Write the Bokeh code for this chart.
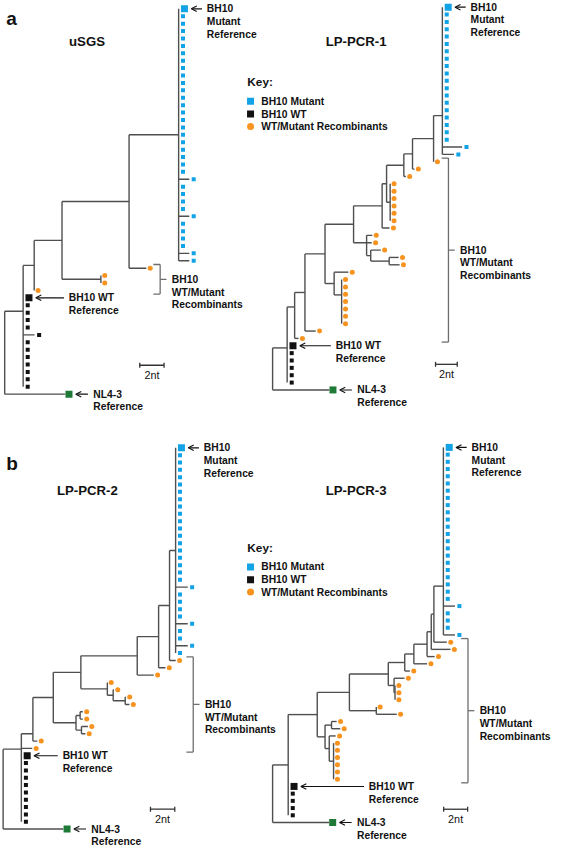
from bokeh.plotting import figure
from bokeh.models import Range1d, Arrow, OpenHead
from bokeh.embed import file_html
from bokeh.resources import INLINE
from bokeh.core.properties import value

# ============================ DATA ============================
panel_titles = ["uSGS", "LP-PCR-1", "LP-PCR-2", "LP-PCR-3"]
panel_letters = ["a", "b"]
key_title = "Key:"
key_kinds = ["mutref", "wtref", "rec"]
key_labels = ["BH10 Mutant", "BH10 WT", "WT/Mutant Recombinants"]
mut_label = ["BH10", "Mutant", "Reference"]
wt_label = ["BH10 WT", "Reference"]
nl43_label = ["NL4-3", "Reference"]
rec_label = ["BH10", "WT/Mutant", "Recombinants"]
scale_nt = 2
scale_label = "2nt"

# Internal nodes: (name, parent, distance from root in nt, row override or None)
# Leaves top to bottom: (parent, tip distance in nt or None = on the node, kind, count)
usgs_nodes = [
    ("R", None, 0.00, None),
    ("A", "R", 1.52, 40.82),
    ("B", "A", 2.43, None),
    ("C", "B", 4.72, None),
    ("D", "C", 10.24, None),
    ("E", "C", 7.92, None),
    ("M", "D", 14.32, None),
]
usgs_leaves = [
    ("M", None, "mutref", 1),
    ("M", None, "mut", 22),
    ("M", 15.2, "mut", 1),
    ("M", None, "mut", 4),
    ("M", 15.2, "mut", 1),
    ("M", None, "mut", 4),
    ("M", 15.2, "mut", 2),
    ("D", 11.66, "rec", 1),
    ("E", None, "rec", 2),
    ("B", None, "rec", 1),
    ("A", None, "wtref", 1),
    ("A", None, "wt", 4),
    ("A", 2.46, "wt", 1),
    ("A", None, "wt", 7),
    ("R", 4.99, "nl43", 1),
]

lp1_nodes = [
    ("R", None, 0.00, None),
    ("N1", "R", 1.34, 46.29),
    ("N2", "N1", 2.03, 40.73),
    ("N3", "N2", 2.98, None),
    ("N4", "N3", 4.83, None),
    ("N5", "N4", 7.46, None),
    ("P", "N5", 10.09, None),
    ("Q", "P", 10.50, None),
    ("K2", "Q", 12.09, None),
    ("K3", "K2", 12.89, None),
    ("K4", "K3", 14.83, None),
    ("M", "K4", 15.64, 14.73),
    ("U", "Q", 10.83, None),
    ("V", "N5", 8.66, 32.0),
    ("Vb", "V", 9.04, None),
    ("Vc", "Vb", 10.74, None),
    ("W", "N4", 5.67, None),
    ("W2", "W", 6.36, 39.09),
]
lp1_leaves = [
    ("M", None, "mutref", 1),
    ("M", None, "mut", 18),
    ("M", 17.46, "mut", 1),
    ("M", 16.71, "mut", 1),
    ("K4", None, "rec", 1),
    ("K3", 13.07, "rec", 1),
    ("K2", 12.27, "rec", 1),
    ("U", None, "rec", 6),
    ("P", 10.77, "rec", 1),
    ("V", 9.19, "rec", 1),
    ("V", 9.13, "rec", 1),
    ("Vb", 9.96, "rec", 1),
    ("Vc", 11.61, "rec", 1),
    ("Vc", 11.70, "rec", 1),
    ("W", 6.98, "rec", 1),
    ("W2", None, "rec", 7),
    ("N3", 3.97, "rec", 1),
    ("N2", 2.39, "rec", 1),
    ("N1", None, "wtref", 1),
    ("N1", None, "wt", 5),
    ("R", 5.22, "nl43", 1),
]

lp2_nodes = [
    ("R", None, 0.00, None),
    ("N1", "R", 1.50, 41.1),
    ("N2", "N1", 2.45, 39.0),
    ("N3", "N2", 4.13, None),
    ("N4", "N3", 6.40, None),
    ("N5", "N4", 11.04, None),
    ("N7", "N5", 12.80, None),
    ("N8", "N7", 13.70, None),
    ("M", "N8", 14.20, None),
    ("N6", "N4", 8.58, None),
    ("N6b", "N6", 9.06, None),
    ("N6c", "N6b", 10.05, None),
    ("N3b", "N3", 6.00, None),
    ("N3c", "N3b", 6.34, None),
    ("N3d", "N3b", 6.45, None),
]
lp2_leaves = [
    ("M", None, "mutref", 1),
    ("M", None, "mut", 18),
    ("M", 15.2, "mut", 1),
    ("M", None, "mut", 4),
    ("M", 15.2, "mut", 1),
    ("M", None, "mut", 2),
    ("M", 15.2, "mut", 1),
    ("M", None, "mut", 1),
    ("N8", 14.21, "rec", 1),
    ("N7", 13.36, "rec", 1),
    ("N5", 12.40, "rec", 1),
    ("N6", None, "rec", 1),
    ("N6b", 9.12, "rec", 1),
    ("N6c", 10.10, "rec", 1),
    ("N6c", 10.40, "rec", 1),
    ("N3c", 6.56, "rec", 2),
    ("N3d", 6.98, "rec", 1),
    ("N3d", 6.77, "rec", 1),
    ("N2", 2.82, "rec", 1),
    ("N1", 2.40, "rec", 1),
    ("N1", None, "wtref", 1),
    ("N1", None, "wt", 9),
    ("R", 4.96, "nl43", 1),
]

lp3_nodes = [
    ("R", None, 0.00, None),
    ("Nm", "R", 1.30, None),
    ("Nl", "Nm", 3.72, None),
    ("Nj", "Nl", 6.40, None),
    ("Nf", "Nj", 9.64, None),
    ("Ne", "Nf", 11.01, None),
    ("Nd", "Ne", 11.77, None),
    ("Nc", "Nd", 12.87, None),
    ("Nb", "Nc", 13.22, None),
    ("Na", "Nb", 13.44, None),
    ("M", "Na", 14.23, 19.23),
    ("Ng", "Nf", 10.12, None),
    ("Nh", "Ng", 10.20, None),
    ("Ni", "Nj", 8.64, None),
    ("Nk", "Nl", 4.37, None),
    ("Nk1", "Nk", 4.91, None),
    ("Nk2", "Nk", 4.72, None),
    ("Nk3", "Nk2", 5.08, None),
]
lp3_leaves = [
    ("M", None, "mutref", 1),
    ("M", None, "mut", 21),
    ("M", 15.2, "mut", 1),
    ("M", None, "mut", 3),
    ("M", 15.2, "mut", 1),
    ("Na", 14.52, "rec", 1),
    ("Nb", 14.82, "rec", 1),
    ("Nc", 13.50, "rec", 1),
    ("Nd", 12.87, "rec", 1),
    ("Ne", 11.44, "rec", 1),
    ("Ng", 10.99, "rec", 1),
    ("Nh", None, "rec", 3),
    ("Ni", None, "rec", 1),
    ("Ni", 10.34, "rec", 1),
    ("Nk1", 5.34, "rec", 1),
    ("Nk1", 5.64, "rec", 1),
    ("Nk2", 5.26, "rec", 1),
    ("Nk3", None, "rec", 6),
    ("Nm", None, "wtref", 1),
    ("Nm", None, "wt", 4),
    ("R", 4.70, "nl43", 1),
]

# ============================ LAYOUT / STYLE ============================
REF_W, REF_H = 567, 862      # design space (px of the original)
W, H = 551, 846              # figure size that fits the window
FONT = value("Liberation Sans")
LINE = "#4f4f4f"
BRACKET = "#6e6e6e"
INK = "#111111"
FS_LABEL = "10.3px"

kind_style = {
    "mutref": dict(marker="square", size=7, color="#12A2E6", off=6.0),
    "mut":    dict(marker="square", size=4, color="#12A2E6", off=4.5),
    "wtref":  dict(marker="square", size=7, color="#111111", off=6.0),
    "wt":     dict(marker="square", size=4, color="#111111", off=4.7),
    "rec":    dict(marker="circle", size=5, color="#F7931E", off=4.0),
    "nl43":   dict(marker="square", size=7, color="#1E7A36", off=3.8),
}

panels = [
    dict(name="t1", nodes=usgs_nodes, leaves=usgs_leaves, ox=4.3, s=12.5, oy=8.5, dy=7.55,
         bracket_x=12.8, wt_arrow=29.0, bar_x=11.12, bar_row=48.1),
    dict(name="t2", nodes=lp1_nodes, leaves=lp1_leaves, ox=280.0, s=11.17, oy=6.8, dy=7.5,
         bracket_x=16.2, wt_arrow=32.0, bar_x=15.01, bar_row=48.52),
    dict(name="t3", nodes=lp2_nodes, leaves=lp2_leaves, ox=2.7, s=12.5, oy=455.8, dy=7.47,
         bracket_x=15.65, wt_arrow=24.5, bar_x=12.13, bar_row=49.29),
    dict(name="t4", nodes=lp3_nodes, leaves=lp3_leaves, ox=280.0, s=12.35, oy=455.35, dy=7.35,
         bracket_x=16.28, wt_arrow=65.0, bar_x=14.25, bar_row=50.16),
]
title_pos = [(89, 42), (366, 42), (89.4, 499), (366, 499)]
letter_pos = [(6, 18.5), (6, 471.5)]
key_pos = [(254, 83.3), (254, 557.7)]   # "Key:" anchor; items follow below

p = figure(width=W, height=H, x_range=Range1d(0, REF_W), y_range=Range1d(REF_H, 0),
           x_axis_type=None, y_axis_type=None, output_backend="svg",
           toolbar_location=None, min_border=0, min_border_left=0, min_border_right=0,
           min_border_top=0, min_border_bottom=0)
p.outline_line_color = None
p.grid.visible = False
p.background_fill_color = "white"

xr, yr = {}, {}
for c in panels:
    xr[c["name"]] = Range1d(-c["ox"] / c["s"], (REF_W - c["ox"]) / c["s"])
    yr[c["name"]] = Range1d((REF_H - c["oy"]) / c["dy"], -c["oy"] / c["dy"])
p.extra_x_ranges = xr
p.extra_y_ranges = yr


def add_text(x, y, text, size=FS_LABEL, bold=True, align="left", baseline="middle", rn="default"):
    p.text(x=[x], y=[y], text=[text], text_font=FONT, text_font_size=size,
           text_font_style="bold" if bold else "normal", text_align=align,
           text_baseline=baseline, text_color=INK, x_range_name=rn, y_range_name=rn)


def layout_tree(nodes, leaves):
    nx = {n[0]: n[2] for n in nodes}
    npar = {n[0]: n[1] for n in nodes}
    nover = {n[0]: n[3] for n in nodes}
    kids = {n[0]: [] for n in nodes}
    for n in nodes:
        if n[1] is not None:
            kids[n[1]].append(("node", n[0]))
    leaf_list = []
    row = 0
    for par, tip, kind, cnt in leaves:
        for _ in range(cnt):
            leaf_list.append((row, par, nx[par] if tip is None else tip, kind))
            kids[par].append(("leaf", row))
            row += 1
    ny = {}

    def gety(n):
        if n not in ny:
            ys = [gety(c) if t == "node" else c for t, c in kids[n]]
            ny[n] = nover[n] if nover[n] is not None else (min(ys) + max(ys)) / 2
        return ny[n]

    for n in nx:
        gety(n)
    return nx, npar, ny, kids, leaf_list


for c in panels:
    rn, s, dy = c["name"], c["s"], c["dy"]
    nx, npar, ny, kids, leaf_list = layout_tree(c["nodes"], c["leaves"])
    hx0, hx1, hy, vx, vy0, vy1 = [], [], [], [], [], []
    for n in nx:
        if npar[n] is not None:
            hx0.append(nx[npar[n]]); hx1.append(nx[n]); hy.append(ny[n])
        ys = [ny[cc] if t == "node" else cc for t, cc in kids[n]] + [ny[n]]
        vx.append(nx[n]); vy0.append(min(ys)); vy1.append(max(ys))
    for row, par, tip, kind in leaf_list:
        if tip > nx[par] + 1e-6:
            hx0.append(nx[par]); hx1.append(tip); hy.append(row)
    p.segment(x0=hx0, y0=hy, x1=hx1, y1=hy, line_color=LINE, line_width=1.4,
              x_range_name=rn, y_range_name=rn)
    p.segment(x0=vx, y0=vy0, x1=vx, y1=vy1, line_color=LINE, line_width=1.4,
              x_range_name=rn, y_range_name=rn)

    marker_x = {}
    for kind, st in kind_style.items():
        xs = [tip + st["off"] / s for row, par, tip, k in leaf_list if k == kind]
        ys = [row for row, par, tip, k in leaf_list if k == kind]
        for row, par, tip, k in leaf_list:
            if k == kind:
                marker_x[row] = tip + st["off"] / s
        p.scatter(x=xs, y=ys, marker=st["marker"], size=st["size"], fill_color=st["color"],
                  line_color=None, x_range_name=rn, y_range_name=rn)

    # labelled arrows to the reference sequences
    specs = [("mutref", mut_label, 7.0, 11.0, 5.0),
             ("wtref", wt_label, 7.0, c["wt_arrow"], 5.0),
             ("nl43", nl43_label, 7.0, 12.5, 5.5)]
    for kind, lines, gap, length, tgap in specs:
        row = [r for r, pa, t, k in leaf_list if k == kind][0]
        x_end = marker_x[row] + gap / s
        x_start = x_end + length / s
        p.add_layout(Arrow(x_start=x_start, y_start=row, x_end=x_end, y_end=row,
                           line_color=INK, line_width=1.1, x_range_name=rn, y_range_name=rn,
                           end=OpenHead(size=5.5, line_width=1.1, line_color=INK)))
        for i, t in enumerate(lines):
            add_text(x_start + tgap / s, row + i * 13.0 / dy, t, rn=rn)

    # bracket around the recombinants
    rec_rows = [r for r, pa, t, k in leaf_list if k == "rec"]
    top, bot = min(rec_rows) - 0.5, max(rec_rows) + 0.5
    mid = (top + bot) / 2
    bx = c["bracket_x"]
    p.segment(x0=[bx, bx - 7 / s, bx - 7 / s, bx], y0=[top, top, bot, mid],
              x1=[bx, bx, bx, bx + 6.5 / s], y1=[bot, top, bot, mid],
              line_color=BRACKET, line_width=1.3, x_range_name=rn, y_range_name=rn)
    for i, t in enumerate(rec_label):
        add_text(bx + 12 / s, mid + i * 13.0 / dy, t, rn=rn)

    # scale bar
    bx0, by = c["bar_x"], c["bar_row"]
    tk = 2.5 / dy
    p.segment(x0=[bx0, bx0, bx0 + scale_nt], y0=[by, by - tk, by - tk],
              x1=[bx0 + scale_nt, bx0, bx0 + scale_nt], y1=[by, by + tk, by + tk],
              line_color="#333333", line_width=1.3, x_range_name=rn, y_range_name=rn)
    add_text(bx0 + scale_nt / 2, by + 9.5 / dy, scale_label, size="10.8px", bold=False,
             align="center", rn=rn)

# titles, panel letters, keys
for (x, y), t in zip(title_pos, panel_titles):
    add_text(x, y, t, size="13.2px", align="center")
for (x, y), t in zip(letter_pos, panel_letters):
    add_text(x, y, t, size="19px", baseline="alphabetic")
for kx, ky in key_pos:
    add_text(kx, ky, key_title, size="11.8px")
    item_dy = [19.4, 32.4, 45.0]
    for dyy, kind, lab in zip(item_dy, key_kinds, key_labels):
        st = kind_style[kind]
        p.scatter(x=[kx + 3.3], y=[ky + dyy], marker=st["marker"], size=7,
                  fill_color=st["color"], line_color=None)
        add_text(kx + 14.3, ky + dyy, lab)

open("out.html", "w").write(file_html(p, INLINE))
